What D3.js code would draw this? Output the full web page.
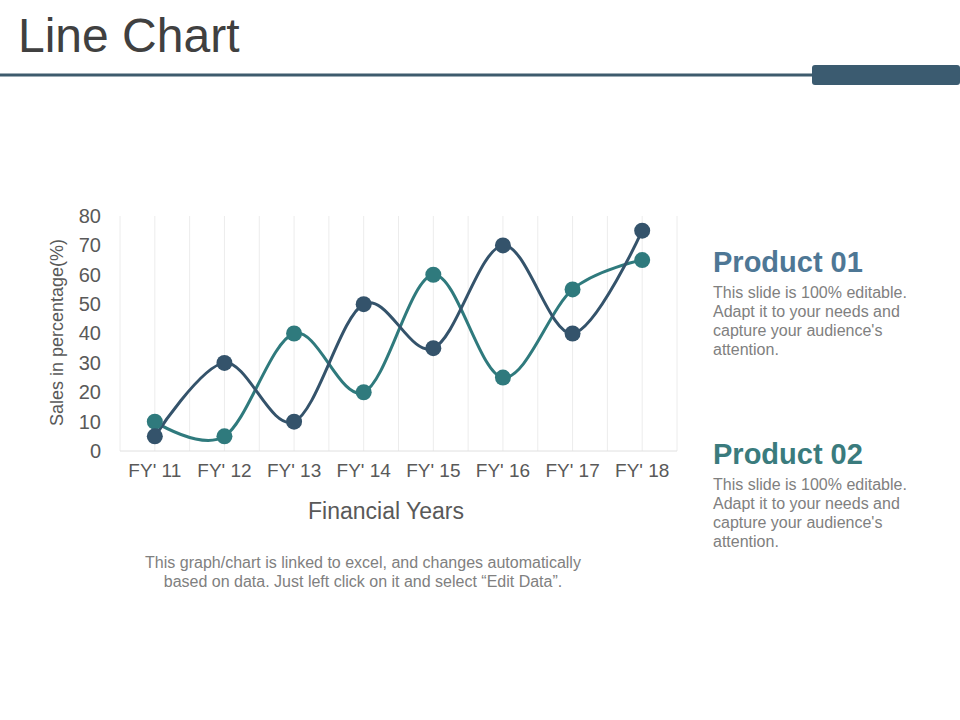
<!DOCTYPE html>
<html>
  <head>
    <meta charset="utf-8" />
    <style>
      body { margin: 0; background: #fff; }
      svg text { font-family: "Liberation Sans", Arial, sans-serif; }
    </style>
  </head>
  <body>
    <svg id="chart" width="960" height="720"></svg>

    <script src="https://d3js.org/d3.v7.min.js"></script>
    <script>
      var years = ["FY' 11", "FY' 12", "FY' 13", "FY' 14", "FY' 15", "FY' 16", "FY' 17", "FY' 18"];
      var product01 = [5, 30, 10, 50, 35, 70, 40, 75];
      var product02 = [10, 5, 40, 20, 60, 25, 55, 65];
      var yTicks = [0, 10, 20, 30, 40, 50, 60, 70, 80];

      var svg = d3.select("#chart");

      // header
      svg.append("text")
        .attr("x", 18).attr("y", 52)
        .attr("font-size", 48)
        .attr("fill", "#404040")
        .text("Line Chart");
      svg.append("rect")
        .attr("x", 0).attr("y", 73.5).attr("width", 820).attr("height", 3)
        .attr("fill", "#3d5b6d");
      svg.append("rect")
        .attr("x", 812).attr("y", 65).attr("width", 148).attr("height", 20)
        .attr("rx", 3).attr("fill", "#3b5b70");

      var plotL = 120, plotR = 677, plotT = 216, plotB = 451;

      var x = d3.scaleBand().domain(years).range([plotL, plotR]);
      var y = d3.scaleLinear().domain([0, 80]).range([plotB, plotT]);

      // vertical grid lines at band edges and centres
      var gridX = [];
      years.forEach(function (d) {
        gridX.push(x(d));
        gridX.push(x(d) + x.bandwidth() / 2);
      });
      gridX.push(plotR);
      svg.append("g").selectAll("line")
        .data(gridX).enter().append("line")
        .attr("x1", function (d) { return d; })
        .attr("x2", function (d) { return d; })
        .attr("y1", plotT).attr("y2", plotB)
        .attr("stroke", "#ececec").attr("stroke-width", 1);

      svg.append("line")
        .attr("x1", plotL).attr("x2", plotR)
        .attr("y1", plotB).attr("y2", plotB)
        .attr("stroke", "#e0e0e0");

      // y axis
      var yAxis = svg.append("g")
        .attr("transform", "translate(" + (plotL - 19) + ",0)")
        .call(d3.axisLeft(y).tickValues(yTicks).tickSize(0).tickPadding(0));
      yAxis.select(".domain").remove();
      yAxis.selectAll("text")
        .attr("font-size", 20).attr("fill", "#595959")
        .attr("font-family", "'Liberation Sans', Arial, sans-serif");

      // x axis
      var xAxis = svg.append("g")
        .attr("transform", "translate(0," + (plotB + 12) + ")")
        .call(d3.axisBottom(x).tickSize(0).tickPadding(0));
      xAxis.select(".domain").remove();
      xAxis.selectAll("text")
        .attr("font-size", 19).attr("fill", "#595959")
        .attr("font-family", "'Liberation Sans', Arial, sans-serif");

      svg.append("text")
        .attr("transform", "translate(63," + ((plotT + plotB) / 2 - 1) + ") rotate(-90)")
        .attr("text-anchor", "middle")
        .attr("font-size", 18).attr("fill", "#595959")
        .text("Sales in percentage(%)");

      svg.append("text")
        .attr("x", 386).attr("y", 519)
        .attr("text-anchor", "middle")
        .attr("font-size", 23).attr("fill", "#595959")
        .text("Financial Years");

      // series
      var series = [
        { name: "Product 01", values: product01, color: "#34536b" },
        { name: "Product 02", values: product02, color: "#2f7a7d" }
      ];

      var line = d3.line()
        .x(function (d, i) { return x(years[i]) + x.bandwidth() / 2; })
        .y(function (d) { return y(d); })
        .curve(d3.curveCardinal.tension(0));

      series.slice().reverse().forEach(function (s) {
        svg.append("path")
          .attr("d", line(s.values))
          .attr("fill", "none")
          .attr("stroke", s.color)
          .attr("stroke-width", 3);
      });
      series.slice().reverse().forEach(function (s) {
        svg.append("g").selectAll("circle")
          .data(s.values).enter().append("circle")
          .attr("cx", function (d, i) { return x(years[i]) + x.bandwidth() / 2; })
          .attr("cy", function (d) { return y(d); })
          .attr("r", 8)
          .attr("fill", s.color);
      });

      // legend blocks
      var blurb = ["This slide is 100% editable.", "Adapt it to your needs and",
                   "capture your audience's", "attention."];
      var legend = [
        { title: "Product 01", color: "#4e7795", y: 272 },
        { title: "Product 02", color: "#3a7b7d", y: 464 }
      ];
      legend.forEach(function (l) {
        svg.append("text")
          .attr("x", 713).attr("y", l.y)
          .attr("font-size", 29).attr("font-weight", "bold")
          .attr("fill", l.color)
          .text(l.title);
        svg.append("g").selectAll("text")
          .data(blurb).enter().append("text")
          .attr("x", 713)
          .attr("y", function (d, i) { return l.y + 26 + i * 19; })
          .attr("font-size", 16).attr("fill", "#808080")
          .text(function (d) { return d; });
      });

      // footnote
      svg.append("g").selectAll("text")
        .data(["This graph/chart is linked to excel, and changes automatically",
               "based on data. Just left click on it and select \u201CEdit Data\u201D."])
        .enter().append("text")
        .attr("x", 363)
        .attr("y", function (d, i) { return 568 + i * 19; })
        .attr("text-anchor", "middle")
        .attr("font-size", 16).attr("fill", "#808080")
        .text(function (d) { return d; });
    </script>
  </body>
</html>
